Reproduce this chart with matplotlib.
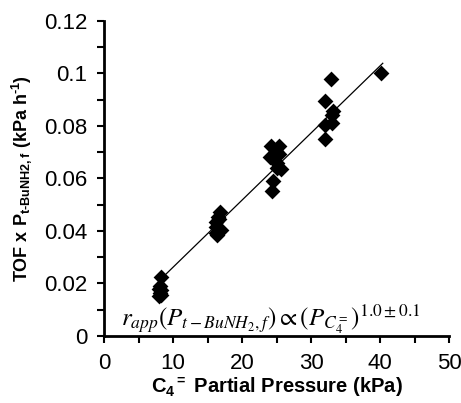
import numpy as np
import matplotlib
matplotlib.use('Agg')
import matplotlib.pyplot as plt
from matplotlib.ticker import MultipleLocator

# ── data ──
c4_kpa = [8.3, 8.1, 8.0, 8.2, 8.1, 8.0, 8.2,
          16.8, 16.5, 16.3, 16.2, 16.9, 16.4, 16.3, 16.6,
          24.2, 25.4, 24.1, 25.4, 25.0, 25.7, 24.5, 24.4, 25.1, 24.9,
          32.9, 32.0, 33.2, 32.0, 33.1, 32.0, 33.0,
          40.2]
tof_p = [0.0225, 0.019, 0.018, 0.0175, 0.0165, 0.0152, 0.0158,
         0.0474, 0.0455, 0.0436, 0.0417, 0.0404, 0.0385, 0.0392, 0.0445,
         0.0724, 0.0724, 0.068, 0.0693, 0.0639, 0.0635, 0.059, 0.0554, 0.066, 0.0705,
         0.0979, 0.0896, 0.0857, 0.0804, 0.081, 0.0749, 0.084,
         0.1001]

# fitted trend line endpoints
fit_x = [8.6, 40.4]
fit_y = [0.0226, 0.1039]

y_ticks = [0, 0.02, 0.04, 0.06, 0.08, 0.1, 0.12]
y_ticklabels = ['0', '0.02', '0.04', '0.06', '0.08', '0.1', '0.12']

plt.rcParams['font.family'] = ['Liberation Sans', 'DejaVu Sans']
plt.rcParams['mathtext.fontset'] = 'custom'
plt.rcParams['mathtext.rm'] = 'Liberation Sans:bold'
plt.rcParams['mathtext.bf'] = 'Liberation Sans:bold'
plt.rcParams['mathtext.it'] = 'Liberation Sans:bold'

fig = plt.figure(figsize=(4.61, 4.03), dpi=100)
ax = fig.add_axes([0.2256, 0.1663, 0.9740 - 0.2256, 0.9479 - 0.1663])

ax.scatter(c4_kpa, tof_p, marker='D', s=65, color='black', zorder=3,
           linewidths=0)
ax.plot(fit_x, fit_y, color='black', linewidth=0.9, zorder=2)

ax.set_xlim(0, 50)
ax.set_ylim(0, 0.12)
ax.xaxis.set_major_locator(MultipleLocator(10))
ax.xaxis.set_minor_locator(MultipleLocator(5))
ax.yaxis.set_minor_locator(MultipleLocator(0.01))
ax.set_yticks(y_ticks)
ax.set_yticklabels(y_ticklabels)

for side in ['top', 'right']:
    ax.spines[side].set_visible(False)
for side in ['left', 'bottom']:
    ax.spines[side].set_linewidth(2)
ax.tick_params(which='both', direction='out', length=5, width=1.5,
               labelsize=16, pad=7)

ax.set_xlabel(r'C$_{4}$$^{=}$ Partial Pressure (kPa)', fontsize=14.5,
              fontweight='bold', labelpad=1)
ax.set_ylabel(r'TOF x P$_{\mathrm{t\text{-}BuNH2,f}}$ (kPa h$^{\mathrm{\text{-}1}}$)',
              fontsize=13, fontweight='bold', labelpad=7)

ax.text(2.5, 0.0038,
        r'$r_{app}\left(P_{t-BuNH_2,f}\right)\propto\left(P_{C_4^{=}}\right)^{1.0\pm0.1}$',
        fontsize=18, math_fontfamily='stix', ha='left', va='baseline')

fig.savefig('out.png', dpi=100)
